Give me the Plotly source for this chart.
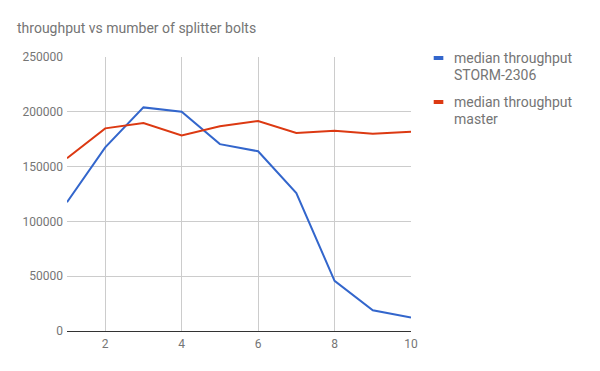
import plotly.graph_objects as go

bolts = [1, 2, 3, 4, 5, 6, 7, 8, 9, 10]
storm_2306 = [117500, 167500, 204000, 200000, 170500, 164000, 125800, 45800, 18900, 12300]
master = [157600, 184900, 189800, 178400, 186800, 191600, 180700, 182700, 180000, 181700]
series_names = ["median throughput<br>STORM-2306", "median throughput<br>master"]
series_colors = ["#3366cc", "#dc3912"]
x_ticks = [2, 4, 6, 8, 10]
y_ticks = [0, 50000, 100000, 150000, 200000, 250000]

fig = go.Figure()
for vals, name, col in zip([storm_2306, master], series_names, series_colors):
    fig.add_trace(go.Scatter(x=bolts, y=vals, mode="lines", name=name.replace("<br>", " "),
                             line=dict(color=col, width=2), showlegend=False))

# custom legend (one annotation per text line for tight line spacing)
leg_line_y = [[0.9964, 0.9361], [0.8358, 0.7737]]
for name, col, ys in zip(series_names, series_colors, leg_line_y):
    for part, yy in zip(name.split("<br>"), ys):
        fig.add_annotation(xref="paper", yref="paper", x=1.118, y=yy, xanchor="left",
                           yanchor="middle", text=part, showarrow=False, align="left",
                           font=dict(family="Roboto", size=14, color="#757575"))
    fig.add_shape(type="line", xref="paper", yref="paper",
                  x0=1.066, x1=1.094, y0=ys[0], y1=ys[0],
                  line=dict(color=col, width=4))

fig.update_layout(
    width=600, height=371,
    margin=dict(l=59, r=197, t=49, b=48),
    paper_bgcolor="white", plot_bgcolor="white",
    font=dict(family="Roboto", size=12, color="#757575"),
    title=dict(text="throughput vs mumber of splitter bolts", x=0.015, xanchor="left",
               y=0.946, yanchor="middle",
               font=dict(family="Roboto", size=14, color="#757575")),
    xaxis=dict(range=[1, 10], tickvals=x_ticks, showgrid=True, gridcolor="#cccccc",
               zeroline=False, showline=False, ticks="", tickfont=dict(size=12),
               ticklabelstandoff=4),
    yaxis=dict(range=[0, 250000], tickvals=y_ticks, showgrid=True, gridcolor="#cccccc",
               zeroline=True, zerolinecolor="#333333", zerolinewidth=1,
               showline=False, ticks="", tickformat="d", tickfont=dict(size=12),
               ticklabelstandoff=3),
)
fig.write_html("out.html")
